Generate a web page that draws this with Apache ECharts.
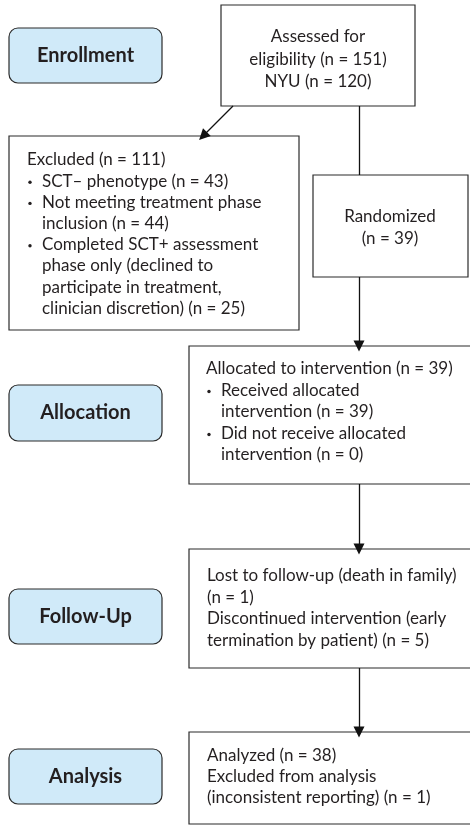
<!DOCTYPE html>
<html>
<head>
<meta charset="utf-8">
<script src="https://cdn.jsdelivr.net/npm/echarts@6/dist/echarts.min.js"></script>
<style>
  html, body { margin: 0; padding: 0; background: #fff; }
  #chart { width: 470px; height: 825px; }
</style>
</head>
<body>
<div id="chart"></div>
<script>
// stage labels (left column)
var stages = ['Enrollment', 'Allocation', 'Follow-Up', 'Analysis'];

// box texts: 'h' = plain line, 'b' = bullet line, 'c' = continuation of bullet
var assessedText = ['Assessed for', 'eligibility (n = 151)', 'NYU (n = 120)'];
var randomizedText = ['Randomized', '(n = 39)'];
var excludedText = [
    ['h', 'Excluded (n = 111)'],
    ['b', 'SCT\u2013 phenotype (n = 43)'],
    ['b', 'Not meeting treatment phase'],
    ['c', 'inclusion (n = 44)'],
    ['b', 'Completed SCT+ assessment'],
    ['c', 'phase only (declined to'],
    ['c', 'participate in treatment,'],
    ['c', 'clinician discretion) (n = 25)']
];
var allocatedText = [
    ['h', 'Allocated to intervention (n = 39)'],
    ['b', 'Received allocated'],
    ['c', 'intervention (n = 39)'],
    ['b', 'Did not receive allocated'],
    ['c', 'intervention (n = 0)']
];
var followUpText = [
    ['h', 'Lost to follow-up (death in family)'],
    ['h', '(n = 1)'],
    ['h', 'Discontinued intervention (early'],
    ['h', 'termination by patient) (n = 5)']
];
var analysisText = [
    ['h', 'Analyzed (n = 38)'],
    ['h', 'Excluded from analysis'],
    ['h', '(inconsistent reporting) (n = 1)']
];

// layout, in axis units (x 0..470, y 0..825 top-down)
var stageBoxes = [[9, 28, 162, 83], [9, 385, 162, 441], [9, 589, 162, 644], [9, 749, 162, 804]];
var boxes = [
    { rect: [221, 5, 415, 106], center: 318, y0: 37, dy: 22.5, lines: assessedText },
    { rect: [313, 175, 468, 277], center: 390, y0: 217, dy: 22, lines: randomizedText },
    { rect: [9, 136, 299, 330], x: 27, y0: 160, dy: 21.2, lines: excludedText },
    { rect: [189, 346, 490, 484], x: 206, y0: 369, dy: 21.5, lines: allocatedText },
    { rect: [189, 549, 490, 668], x: 207, y0: 576, dy: 21.5, lines: followUpText },
    { rect: [189, 732, 490, 824], x: 207, y0: 756, dy: 21, lines: analysisText }
];
var arrows = [
    [[233, 106], [203, 136]],
    [[359, 277], [359, 346]],
    [[359, 484], [359, 549]],
    [[359, 668], [359, 732]]
];
var plainLinks = [[[359, 106], [359, 175]]];

var textColor = '#231f20';
var lineColor = '#2b2b2b';
var font = 'Lato, "Open Sans", sans-serif';

var chart = echarts.init(document.getElementById('chart'));

function renderStage(params, api) {
    var i = api.value(0);
    var b = stageBoxes[i];
    var p0 = api.coord([b[0], b[1]]);
    var p1 = api.coord([b[2], b[3]]);
    return {
        type: 'group',
        children: [{
            type: 'rect',
            shape: { x: p0[0], y: p0[1], width: p1[0] - p0[0], height: p1[1] - p0[1], r: 9 },
            style: { fill: '#d0eaf9', stroke: lineColor, lineWidth: 1.2 }
        }, {
            type: 'text',
            x: (p0[0] + p1[0]) / 2,
            y: (p0[1] + p1[1]) / 2,
            style: {
                text: stages[i], fill: textColor, font: 'bold 20px ' + font,
                align: 'center', verticalAlign: 'middle'
            }
        }]
    };
}

function renderBox(params, api) {
    var box = boxes[api.value(0)];
    var r = box.rect;
    var p0 = api.coord([r[0], r[1]]);
    var p1 = api.coord([r[2], r[3]]);
    var children = [{
        type: 'rect',
        shape: { x: p0[0], y: p0[1], width: p1[0] - p0[0], height: p1[1] - p0[1] },
        style: { fill: '#fff', stroke: lineColor, lineWidth: 1.2 }
    }];
    box.lines.forEach(function (ln, k) {
        var y = box.y0 + k * box.dy;
        if (typeof ln === 'string') {
            var pc = api.coord([box.center, y]);
            children.push({
                type: 'text', x: pc[0], y: pc[1],
                style: { text: ln, fill: textColor, font: '17px ' + font, align: 'center', verticalAlign: 'middle' }
            });
            return;
        }
        var kind = ln[0];
        var tx = kind === 'h' ? box.x : box.x + 15;
        var pt = api.coord([tx, y]);
        children.push({
            type: 'text', x: pt[0], y: pt[1],
            style: { text: ln[1], fill: textColor, font: '17px ' + font, align: 'left', verticalAlign: 'middle' }
        });
        if (kind === 'b') {
            var pb = api.coord([box.x + 3, y]);
            children.push({
                type: 'circle',
                shape: { cx: pb[0], cy: pb[1] + 1, r: 1.7 },
                style: { fill: textColor }
            });
        }
    });
    return { type: 'group', children: children };
}

chart.setOption({
    animation: false,
    grid: { left: 0, right: 0, top: 0, bottom: 0 },
    xAxis: { type: 'value', min: 0, max: 470, show: false },
    yAxis: { type: 'value', min: 0, max: 825, inverse: true, show: false },
    series: [
        {
            type: 'custom',
            renderItem: renderBox,
            data: boxes.map(function (b, i) { return [i]; }),
            silent: true
        },
        {
            type: 'custom',
            renderItem: renderStage,
            data: stages.map(function (s, i) { return [i]; }),
            silent: true
        },
        {
            type: 'lines',
            coordinateSystem: 'cartesian2d',
            symbol: ['none', 'triangle'],
            symbolSize: [9, 11],
            lineStyle: { color: '#111', width: 1.3, opacity: 1 },
            itemStyle: { color: '#111' },
            data: arrows.map(function (a) { return { coords: a }; }),
            silent: true
        },
        {
            type: 'lines',
            coordinateSystem: 'cartesian2d',
            symbol: 'none',
            lineStyle: { color: '#111', width: 1.3, opacity: 1 },
            data: plainLinks.map(function (a) { return { coords: a }; }),
            silent: true
        }
    ]
});
</script>
</body>
</html>
